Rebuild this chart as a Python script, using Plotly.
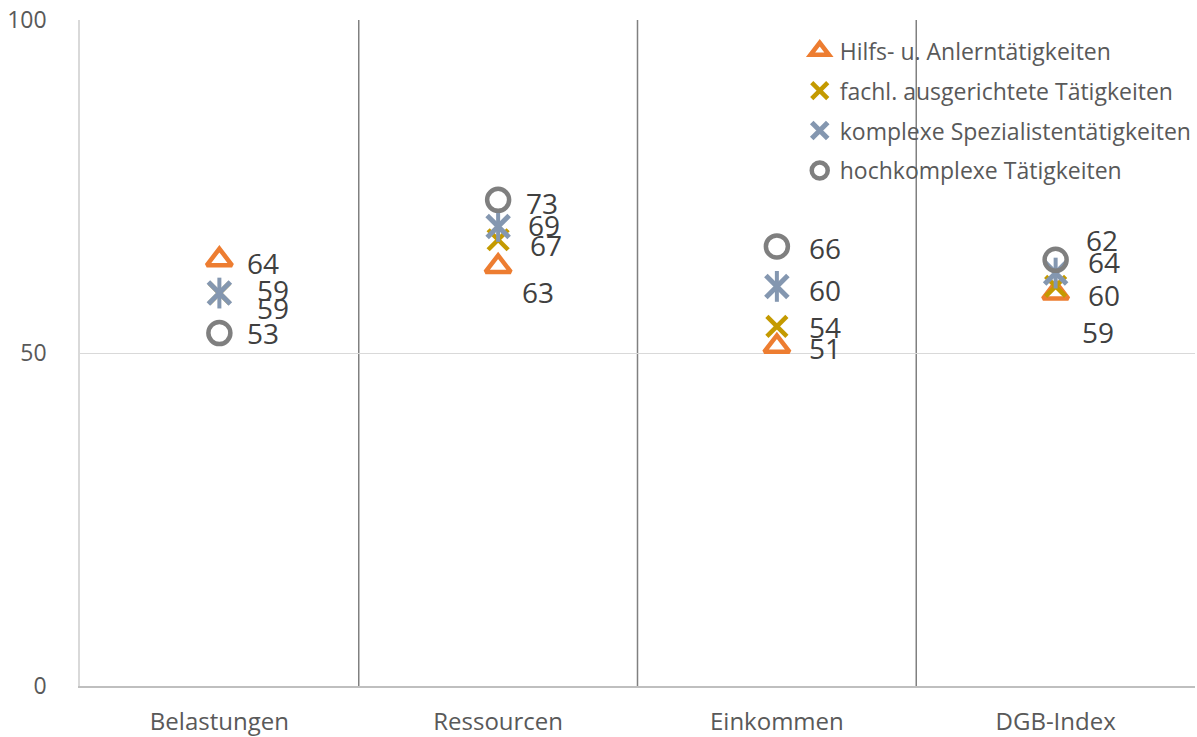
import plotly.graph_objects as go

categories = ["Belastungen", "Ressourcen", "Einkommen", "DGB-Index"]

series_names = [
    "Hilfs- u. Anlerntätigkeiten",
    "fachl. ausgerichtete Tätigkeiten",
    "komplexe Spezialistentätigkeiten",
    "hochkomplexe Tätigkeiten",
]
hilfs = [64, 63, 51, 59]
fachl = [59, 67, 54, 60]
komplex = [59, 69, 60, 62]
hochkomplex = [53, 73, 66, 64]

# label offsets in px (xshift, yshift), hand-placed like in the original
label_offsets = [
    [(26, -3), (22, -26), (30, -2), (24, -39)],
    [(36, 3), (30, -5), (30, -1), (30, -9)],
    [(36, -15), (28, 1), (30, -4), (28, 33)],
    [(26, 0), (26, -3), (30, -2), (30, -2)],
]

colors = ["#ED7D31", "#C49A00", "#8497B0", "#7F7F7F"]
FONT = "Open Sans"

fig = go.Figure()

values = [hilfs, fachl, komplex, hochkomplex]
symbols = ["triangle-up-open", "x-thin-open", "x-thin-open", "circle-open"]
sizes = [22, 20, 22, 22]
widths = [4.5, 4.5, 5, 4.5]

for i, name in enumerate(series_names):
    fig.add_trace(go.Scatter(
        x=categories, y=values[i], mode="markers", name=name,
        legendgroup=name,
        marker=dict(symbol=symbols[i], size=sizes[i], color=colors[i],
                    line=dict(color=colors[i], width=widths[i])),
    ))
    if i == 2:
        # vertical stroke to turn the X into a star
        fig.add_trace(go.Scatter(
            x=categories, y=values[i], mode="markers", showlegend=False,
            legendgroup=name, hoverinfo="skip",
            marker=dict(symbol="line-ns-open", size=22, color=colors[i],
                        line=dict(color=colors[i], width=4)),
        ))

annotations = []
for i, vals in enumerate(values):
    for j, v in enumerate(vals):
        dx, dy = label_offsets[i][j]
        annotations.append(dict(
            x=categories[j], y=v, text=str(v), showarrow=False,
            xanchor="left", yanchor="middle", xshift=dx, yshift=dy,
            font=dict(family=FONT, size=28, color="#404040"),
        ))

shapes = []
for b in [0.5, 1.5, 2.5]:
    shapes.append(dict(type="line", xref="x", yref="y", x0=b, x1=b, y0=0, y1=100,
                       line=dict(color="#808080", width=1.5), layer="below"))

fig.update_layout(
    width=1197, height=737,
    margin=dict(l=80, r=0, t=20, b=51),
    paper_bgcolor="white", plot_bgcolor="white",
    font=dict(family=FONT, color="#595959"),
    showlegend=True,
    legend=dict(
        x=0.6455, y=0.986, xanchor="left", yanchor="top",
        bgcolor="rgba(0,0,0,0)", font=dict(family=FONT, size=23, color="#595959"),
        traceorder="grouped", tracegroupgap=7,
    ),
    annotations=annotations,
    shapes=shapes,
)
fig.update_xaxes(
    type="category", range=[-0.5, 3.5], showgrid=False, automargin=False,
    showline=True, linecolor="#BFBFBF", linewidth=1.5,
    tickfont=dict(family=FONT, size=24, color="#595959"),
    ticks="", ticklabelstandoff=13,
)
fig.update_yaxes(
    range=[0, 100], dtick=50, showgrid=True, gridcolor="#D9D9D9", gridwidth=1,
    showline=True, linecolor="#D9D9D9", linewidth=1.5, zeroline=False,
    automargin=False,
    tickfont=dict(family=FONT, size=23, color="#595959"),
    ticks="", ticklabelstandoff=27,
)

fig.write_html(
    "out.html",
    config={"displayModeBar": False},
    post_script="document.body.style.margin='0';document.body.style.overflow='hidden';",
)
